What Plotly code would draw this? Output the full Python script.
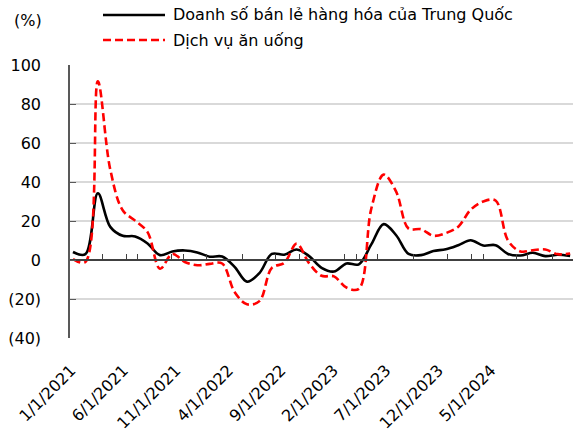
import plotly.graph_objects as go

# Monthly points (year-on-year growth, %), plotted in sequence
retail_sales = [4.1, 3.0, 34.2, 17.0, 12.4, 12.1, 8.5, 2.5, 4.4, 4.9, 3.9, 1.7,
                1.8, -3.5, -11.1, -6.7, 3.1, 2.7, 5.4, 2.0, -4.0, -5.9, -1.8,
                -2.2, 8.0, 18.4, 12.7, 3.1, 2.5, 4.6, 5.5, 7.6, 10.1, 7.4,
                7.6, 3.1, 2.3, 3.7, 2.0, 2.7, 2.1]
catering = [0.5, -1.0, 91.6, 46.4, 25.5, 20.2, 14.3, -4.5, 3.1, -1.0, -2.7, -2.0,
            -1.8, -16.4, -22.7, -21.1, -4.0, -1.5, 8.4, -1.7, -8.1, -8.4, -14.1,
            -14.8, 26.3, 43.8, 35.1, 16.1, 15.8, 12.4, 13.8, 17.1, 25.8, 30.0,
            30.5, 10.0, 4.4, 5.0, 5.4, 3.0, 3.3]

series_names = ["Doanh số bán lẻ hàng hóa của Trung Quốc", "Dịch vụ ăn uống"]
date_labels = ["1/1/2021", "6/1/2021", "11/1/2021", "4/1/2022", "9/1/2022",
               "2/1/2023", "7/1/2023", "12/1/2023", "5/1/2024"]
y_ticks = [-40, -20, 0, 20, 40, 60, 80, 100]

x = list(range(len(retail_sales)))
label_pos = [-0.15 + 4.224 * i for i in range(len(date_labels))]
minor_marks = [2.41, 4.34, 5.23, 7.96, 8.93, 10.78, 13.6, 16.33, 18.26, 21.88,
               22.85, 24.54, 27.36, 30.17, 32.1, 32.99, 35.72, 36.6, 38.54]

FONT = "DejaVu Sans"
W, H = 573, 433
L, R, T, B = 70, 0, 65, 95
pw, ph = W - L - R, H - T - B


def px(xp):
    return (xp - L) / pw


def py(yp):
    return (H - B - yp) / ph


xrange_ = [-0.24, 40.23]

fig = go.Figure()
fig.add_trace(go.Scatter(x=x, y=retail_sales, mode="lines", name=series_names[0],
                         line=dict(color="#000000", width=2.6, shape="spline"),
                         showlegend=False))
fig.add_trace(go.Scatter(x=x, y=catering, mode="lines", name=series_names[1],
                         line=dict(color="#ff0000", width=2.6, shape="spline",
                                   dash="8px,4px"),
                         showlegend=False))
# carrier trace for the zero-line axis
fig.add_trace(go.Scatter(x=[0], y=[0], xaxis="x2", mode="markers",
                         marker=dict(opacity=0), showlegend=False, hoverinfo="skip"))

fig.update_layout(
    width=W, height=H,
    margin=dict(l=L, r=R, t=T, b=B),
    paper_bgcolor="white", plot_bgcolor="white",
    font=dict(family=FONT, size=16, color="#000000"),
    xaxis=dict(range=xrange_, tickmode="array", tickvals=label_pos, ticktext=date_labels,
               tickangle=-45, showgrid=False, zeroline=False, showline=False,
               ticks="", ticklabelstandoff=19),
    xaxis2=dict(range=xrange_, overlaying="x", anchor="free", position=40 / 140,
                side="top", tickmode="array", tickvals=minor_marks, ticks="outside",
                ticklen=5, tickwidth=1.3, tickcolor="#404040", showticklabels=False,
                showline=True, linecolor="#404040", linewidth=1.6, showgrid=False,
                zeroline=False),
    yaxis=dict(range=[-40, 100], tickmode="array", tickvals=y_ticks,
               ticktext=[f"({abs(v)})" if v < 0 else str(v) for v in y_ticks],
               showgrid=True, gridcolor="#d9d9d9", gridwidth=2, zeroline=False,
               showline=True, linecolor="#595959", linewidth=1.5,
               ticks="inside", ticklen=6, tickcolor="#595959", ticklabelstandoff=24),
)

# legend: long line samples with labels
fig.add_shape(type="line", xref="paper", yref="paper", x0=px(103), x1=px(165),
              y0=py(15), y1=py(15), line=dict(color="#000000", width=2.6))
fig.add_shape(type="line", xref="paper", yref="paper", x0=px(103), x1=px(165),
              y0=py(40), y1=py(40), line=dict(color="#ff0000", width=2.6, dash="8px,4px"))
for name, yp in zip(series_names, [15, 40]):
    fig.add_annotation(text=name, xref="paper", yref="paper", x=px(171), y=py(yp),
                       xanchor="left", yanchor="middle", showarrow=False,
                       font=dict(family=FONT, size=16, color="#000000"))
fig.add_annotation(text="(%)", xref="paper", yref="paper", x=px(12), y=py(21),
                   xanchor="left", yanchor="middle", showarrow=False,
                   font=dict(family=FONT, size=16, color="#000000"))

fig.write_html("out.html")
